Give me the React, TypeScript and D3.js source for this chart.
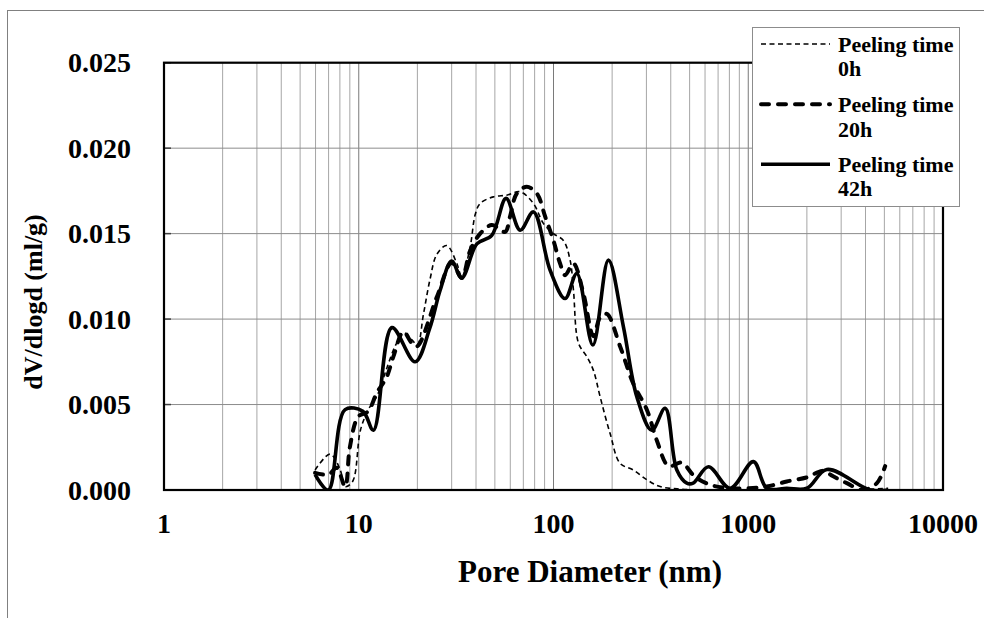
import React from "react";
import * as d3 from "d3";

const W = 984;
const H = 618;

// Y axis ticks
const yTicks = [0, 0.005, 0.01, 0.015, 0.02, 0.025];
const yTickLabels = ["0.000", "0.005", "0.010", "0.015", "0.020", "0.025"];
// X axis ticks
const xTicks = [1, 10, 100, 1000, 10000];
const xTickLabels = ["1", "10", "100", "1000", "10000"];

const seriesNames = ["Peeling time 0h", "Peeling time 20h", "Peeling time 42h"];

// Pore diameter (nm) and dV/dlogd (ml/g) for each series
const d0h = [5.97, 7.12, 8.02, 8.51, 9.3, 10.2, 11.2, 12.4, 14.0, 15.5, 17.0, 18.7, 20.0, 21.5, 23.2, 25.2, 28.3, 31.9, 33.8, 37.3, 39.6, 42.0, 49.1, 57.5, 67.4, 78.9, 88.7, 99.9, 112.4, 121.7, 126.6, 134.3, 148.3, 160.3, 173.5, 195.3, 219.8, 257.3, 301.5, 352.7, 450, 600, 1000, 2000, 3500, 5230];
const v0h = [0.00117, 0.0021, 0.0012, 0.0002, 0.0005, 0.0035, 0.0047, 0.0055, 0.0072, 0.0085, 0.0092, 0.0088, 0.0085, 0.0103, 0.0123, 0.0138, 0.0143, 0.01325, 0.01247, 0.0142, 0.0161, 0.01676, 0.01715, 0.01725, 0.01745, 0.01676, 0.0156, 0.015, 0.0146, 0.01345, 0.0117, 0.0086, 0.0078, 0.007, 0.00546, 0.0033, 0.00156, 0.00117, 0.0006, 0.0002, 0.00005, 0, 0, 0, 0, 0.0001];

const d20h = [5.97, 7.0, 7.7, 8.51, 9.0, 9.95, 11.16, 12.4, 13.9, 15.06, 16.95, 18.7, 19.9, 25.2, 30.0, 33.8, 37.3, 42.0, 48.2, 56.4, 59.8, 64.8, 72.9, 82.1, 90.6, 99.9, 108.1, 114.7, 126.6, 142.4, 160.3, 173.5, 187.8, 219.8, 257.3, 301.5, 339.3, 390, 455, 530, 640, 800, 1000, 1246, 1578, 2000, 2420, 2729, 3209, 3891, 4576, 5047];
const v20h = [0.001, 0.0009, 0.0013, 0.0002, 0.0025, 0.0043, 0.0046, 0.0057, 0.0066, 0.0078, 0.00926, 0.0086, 0.0084, 0.0113, 0.0133, 0.0124, 0.014, 0.015, 0.0155, 0.0151, 0.016, 0.01735, 0.01774, 0.01735, 0.016, 0.0146, 0.01325, 0.01257, 0.01325, 0.0115, 0.009, 0.0101, 0.0103, 0.0084, 0.0062, 0.0047, 0.0029, 0.0014, 0.0016, 0.0008, 0.0003, 0.0001, 0.0001, 0.0002, 0.0005, 0.00074, 0.00112, 0.0008, 0.0004, 0.0, 0.0004, 0.0014];

const d42h = [5.97, 6.98, 8.51, 10.5, 11.9, 14.8, 19.46, 23.2, 26.2, 30.0, 33.8, 40.4, 48.2, 57.1, 67.4, 78.9, 96.0, 114.7, 131.7, 159.2, 191.4, 228.6, 267.8, 319.8, 374.3, 429.8, 483.8, 521, 624.7, 807, 1063, 1246, 1578, 2000, 2533, 4227, 5230];
const v42h = [0.0009, 0.0, 0.0047, 0.0046, 0.0035, 0.0095, 0.0075, 0.0095, 0.0117, 0.0134, 0.0124, 0.0144, 0.0149, 0.01706, 0.0152, 0.01627, 0.01287, 0.0112, 0.01267, 0.00848, 0.01345, 0.00955, 0.00546, 0.0035, 0.00478, 0.00117, 0.0004, 0.0004, 0.00136, 0.0001, 0.00166, 0.0001, 0.0001, 0.0001, 0.0012, 0.0, 0.0];

const FONT = "'Liberation Serif', 'Times New Roman', serif";

export default function App() {
  const left = 164, right = 943, top = 62.7, bottom = 490;
  const x = d3.scaleLog().domain([1, 10000]).range([left, right]);
  const y = d3.scaleLinear().domain([0, 0.025]).range([bottom, top]);

  const minorX: number[] = [];
  for (let dec = 1; dec < 10000; dec *= 10) {
    for (let k = 2; k <= 9; k++) minorX.push(dec * k);
  }

  const line = d3
    .line<[number, number]>()
    .x((p) => x(p[0]))
    .y((p) => y(p[1]))
    .curve(d3.curveCatmullRom.alpha(0.5));

  const series = [
    { name: seriesNames[0], d: d0h, v: v0h, width: 1.6, dash: "5,3.5", cap: "butt" },
    { name: seriesNames[1], d: d20h, v: v20h, width: 4, dash: "8,9", cap: "round" },
    { name: seriesNames[2], d: d42h, v: v42h, width: 3.6, dash: "none", cap: "butt" },
  ];

  const legendX = 752.5, legendY = 27.5, legendW = 207, legendH = 179;
  const legendRows = [
    { lineY: 44, t1: 51.7, t2: 76, label2: "0h" },
    { lineY: 104.3, t1: 111.7, t2: 136.7, label2: "20h" },
    { lineY: 164.3, t1: 171.7, t2: 196, label2: "42h" },
  ];

  return (
    <svg width={W} height={H} style={{ display: "block", position: "absolute", left: 0, top: 0 }}>
      <rect x={0} y={0} width={W} height={H} fill="#fff" />
      <rect x={7.5} y={10.5} width={1100} height={800} fill="none" stroke="#808080" strokeWidth={1} />
      <defs>
        <clipPath id="plotclip">
          <rect x={left} y={top - 5} width={right - left} height={bottom - top + 5} />
        </clipPath>
      </defs>
      {/* minor vertical gridlines */}
      {minorX.map((v) => (
        <line key={"mx" + v} x1={x(v)} x2={x(v)} y1={top} y2={bottom} stroke="#a6a6a6" strokeWidth={1} />
      ))}
      {xTicks.map((v) => (
        <line key={"Mx" + v} x1={x(v)} x2={x(v)} y1={top} y2={bottom} stroke="#7a7a7a" strokeWidth={1} />
      ))}
      {yTicks.map((v) => (
        <line key={"gy" + v} x1={left} x2={right} y1={y(v)} y2={y(v)} stroke="#8c8c8c" strokeWidth={1} />
      ))}
      {yTicks.map((v) => (
        <line key={"ty" + v} x1={left} x2={left + 7} y1={y(v)} y2={y(v)} stroke="#404040" strokeWidth={1.5} />
      ))}
      {/* series */}
      <g clipPath="url(#plotclip)">
        {series.map((s) => (
          <path
            key={s.name}
            d={line(s.d.map((dd, i) => [dd, s.v[i]] as [number, number])) || ""}
            fill="none"
            stroke="#000"
            strokeWidth={s.width}
            strokeDasharray={s.dash}
            strokeLinecap={s.cap as any}
            strokeLinejoin="round"
          />
        ))}
      </g>
      {/* plot frame */}
      <rect x={left} y={top} width={right - left} height={bottom - top} fill="none" stroke="#000" strokeWidth={2.2} />
      {/* y tick labels */}
      {yTicks.map((v, i) => (
        <text key={"yl" + v} x={131} y={y(v) + 9.5} textAnchor="end" fontFamily={FONT} fontWeight="bold" fontSize={28}>
          {yTickLabels[i]}
        </text>
      ))}
      {/* x tick labels */}
      {xTicks.map((v, i) => (
        <text key={"xl" + v} x={x(v)} y={533} textAnchor="middle" fontFamily={FONT} fontWeight="bold" fontSize={28}>
          {xTickLabels[i]}
        </text>
      ))}
      <text x={590} y={582} textAnchor="middle" fontFamily={FONT} fontWeight="bold" fontSize={31}>
        Pore Diameter (nm)
      </text>
      <text
        transform="translate(42,302) rotate(-90)"
        textAnchor="middle"
        fontFamily={FONT}
        fontWeight="bold"
        fontSize={26}
      >
        dV/dlogd (ml/g)
      </text>
      {/* legend */}
      <rect x={legendX} y={legendY} width={legendW} height={legendH} fill="#fff" stroke="#8c8c8c" strokeWidth={1} />
      {series.map((s, i) => (
        <g key={"lg" + i}>
          <line
            x1={761}
            x2={830}
            y1={legendRows[i].lineY}
            y2={legendRows[i].lineY}
            stroke="#000"
            strokeWidth={s.width}
            strokeDasharray={s.dash}
            strokeLinecap={s.cap as any}
          />
          <text x={838} y={legendRows[i].t1} fontFamily={FONT} fontWeight="bold" fontSize={22}>
            Peeling time
          </text>
          <text x={838} y={legendRows[i].t2} fontFamily={FONT} fontWeight="bold" fontSize={22}>
            {legendRows[i].label2}
          </text>
        </g>
      ))}
    </svg>
  );
}
